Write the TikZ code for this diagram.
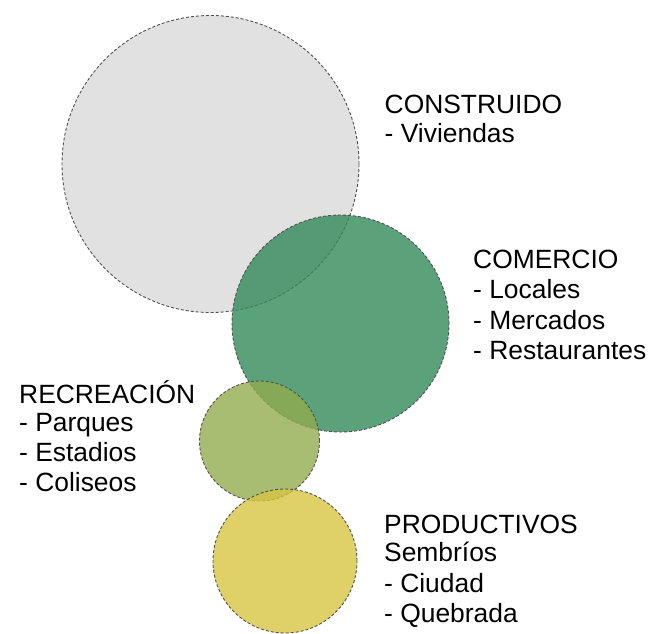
\documentclass[tikz,border=0pt]{standalone}
\usepackage{fontspec}
\setmainfont{Liberation Sans}
\definecolor{cgray}{HTML}{D9D9D9}
\definecolor{cgreen}{HTML}{328959}
\definecolor{colive}{HTML}{92AC4F}
\definecolor{cyellow}{HTML}{D7C442}
\definecolor{cedge}{HTML}{505050}
\begin{document}
\begin{tikzpicture}[x=1pt,y=-1pt,
  bubble/.style={circle,draw=cedge,line width=0.9pt,dash pattern=on 3pt off 2pt,fill opacity=0.8,draw opacity=1,inner sep=0pt},
  lbl/.style={anchor=base west,inner sep=0pt,font=\fontsize{26.4}{30}\selectfont,text=black}]
\useasboundingbox (0,0) rectangle (652,633);
\node[bubble,fill=cgray,minimum size=297pt] (construido) at (210.5,164) {};
\node[bubble,fill=cgreen,minimum size=217pt] (comercio) at (340.5,323.5) {};
\node[bubble,fill=colive,minimum size=120pt] (recreacion) at (259.5,441) {};
\node[bubble,fill=cyellow,minimum size=144pt] (productivos) at (285,561) {};
% labels
\node[lbl] (t1) at (384.5,113) {CONSTRUIDO};
\node[lbl] (t2) at (384.5,142) {- Viviendas};
\node[lbl] (c1) at (473,268) {COMERCIO};
\node[lbl] (c2) at (473,298.5) {- Locales};
\node[lbl] (c3) at (473,329) {- Mercados};
\node[lbl] (c4) at (473,359.5) {- Restaurantes};
\node[lbl] (r1) at (19,403) {RECREACIÓN};
\node[lbl] (r2) at (19,431) {- Parques};
\node[lbl] (r3) at (19,461) {- Estadios};
\node[lbl] (r4) at (19,491) {- Coliseos};
\node[lbl] (p1) at (384,533) {PRODUCTIVOS};
\node[lbl] (p2) at (384,561.5) {Sembríos};
\node[lbl] (p3) at (384,592) {- Ciudad};
\node[lbl] (p4) at (384,622) {- Quebrada};
\end{tikzpicture}
\end{document}
